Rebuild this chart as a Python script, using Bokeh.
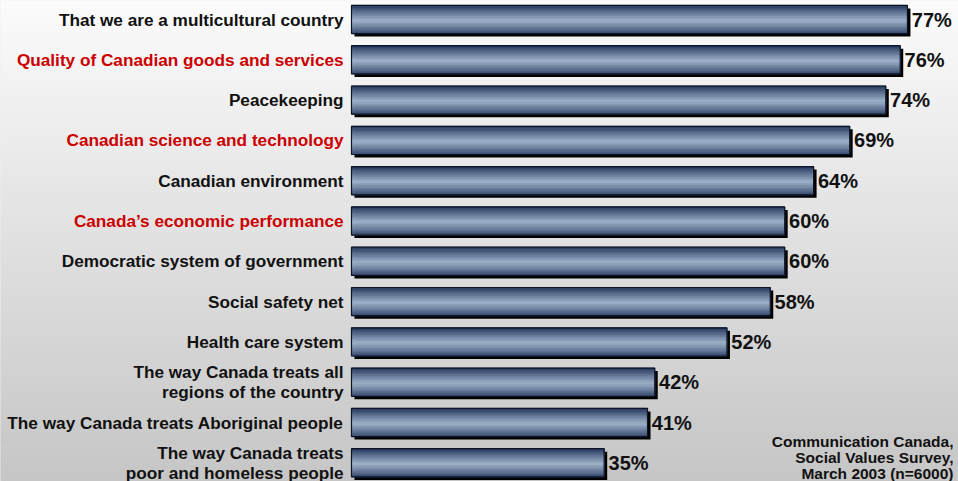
import numpy as np
from bokeh.plotting import figure
from bokeh.models import ColumnDataSource, Range1d, Label
from bokeh.core.properties import value
from bokeh.embed import file_html
from bokeh.resources import INLINE

# ---- data ----
categories = [
    "That we are a multicultural country",
    "Quality of Canadian goods and services",
    "Peacekeeping",
    "Canadian science and technology",
    "Canadian environment",
    "Canada\u2019s economic performance",
    "Democratic system of government",
    "Social safety net",
    "Health care system",
    "The way Canada treats all\nregions of the country",
    "The way Canada treats Aboriginal people",
    "The way Canada treats\npoor and homeless people",
]
values = [77, 76, 74, 69, 64, 60, 60, 58, 52, 42, 41, 35]
highlight = [False, True, False, True, False, True, False, False, False, False, False, False]
footnote = "Communication Canada,\nSocial Values Survey,\nMarch 2003 (n=6000)"

# ---- layout (reference pixel geometry -> data) ----
W, H = 958, 481
PX_PER_PCT = 7.22
X0_PX = 351.0
ROW0_PX, ROW_PX = 19.0, 40.3
x_start = -X0_PX / PX_PER_PCT
x_end = (958 - X0_PX) / PX_PER_PCT
y_top = (0 - ROW0_PX) / ROW_PX
y_bot = (481 - ROW0_PX) / ROW_PX

p = figure(width=W, height=H, output_backend="svg", toolbar_location=None,
           x_range=Range1d(x_start, x_end), y_range=Range1d(y_bot, y_top),
           min_border=0, outline_line_color=None,
           background_fill_color="#e0e0e0", border_fill_color="#e0e0e0")
p.axis.visible = False
p.grid.visible = False

# background vertical gradient (bands)
nb = 60
edges = np.linspace(y_top, y_bot, nb + 1)
top_c = np.array([252, 252, 252])
bot_c = np.array([198, 198, 198])
bcols = []
for j in range(nb):
    t = (j + 0.5) / nb
    c = (top_c * (1 - t) + bot_c * t).astype(int)
    bcols.append("#%02x%02x%02x" % tuple(c))
p.quad(left=x_start - 5, right=x_end + 5, top=edges[:-1], bottom=edges[1:] + 0.002,
       fill_color=bcols, line_color=bcols, line_width=1)

n = len(values)
ys = np.arange(n, dtype=float)
bar_h = 0.70
shadow_dx = 3.0 / PX_PER_PCT
shadow_dy = 3.0 / ROW_PX

src = ColumnDataSource(dict(
    y=ys, right=values,
    label=categories,
    color=["#cc0000" if h else "#111111" for h in highlight],
    vlabel=[f"{v}%" for v in values],
    vx=[v + 0.6 for v in values],
))

# shadow
p.hbar(y=ys + shadow_dy, left=shadow_dx, right=np.array(values) + shadow_dx,
       height=bar_h, fill_color="black", line_color=None)

# gradient stripes
N = 22
dark = np.array([22, 40, 80])
light = np.array([160, 180, 204])
for k in range(N):
    t = (k + 0.5) / N
    f = max(0.0, 1 - abs(t - 0.55) / 0.55) ** 0.8
    c = (dark * (1 - f) + light * f).astype(int)
    col = "#%02x%02x%02x" % tuple(c)
    p.hbar(y=ys - bar_h / 2 + (k + 0.5) * bar_h / N, left=0, right=values,
           height=bar_h / N, fill_color=col, line_color=col, line_width=0.8)

# outline
p.hbar(y="y", left=0, right="right", height=bar_h, source=src,
       fill_alpha=0, line_color="#0c1426", line_width=1.2)

# category labels
p.text(x=-1.1, y="y", text="label", source=src, text_align="right",
       text_baseline="middle", text_font=value("Liberation Sans"),
       text_font_style="bold", text_font_size="17.2px", text_color="color",
       text_line_height=1.02)

# value labels
p.text(x="vx", y="y", text="vlabel", source=src, text_align="left",
       text_baseline="middle", text_font=value("Liberation Sans"),
       text_font_style="bold", text_font_size="20px", text_color="#111111")

# footnote
p.add_layout(Label(x=W - 5, y=-1, x_units="screen", y_units="screen",
                   text=footnote, text_align="right", text_baseline="bottom",
                   text_font="Liberation Sans", text_font_style="bold",
                   text_font_size="15.5px", text_color="#111111",
                   text_line_height=0.95))

open("out.html", "w").write(file_html(p, INLINE))
